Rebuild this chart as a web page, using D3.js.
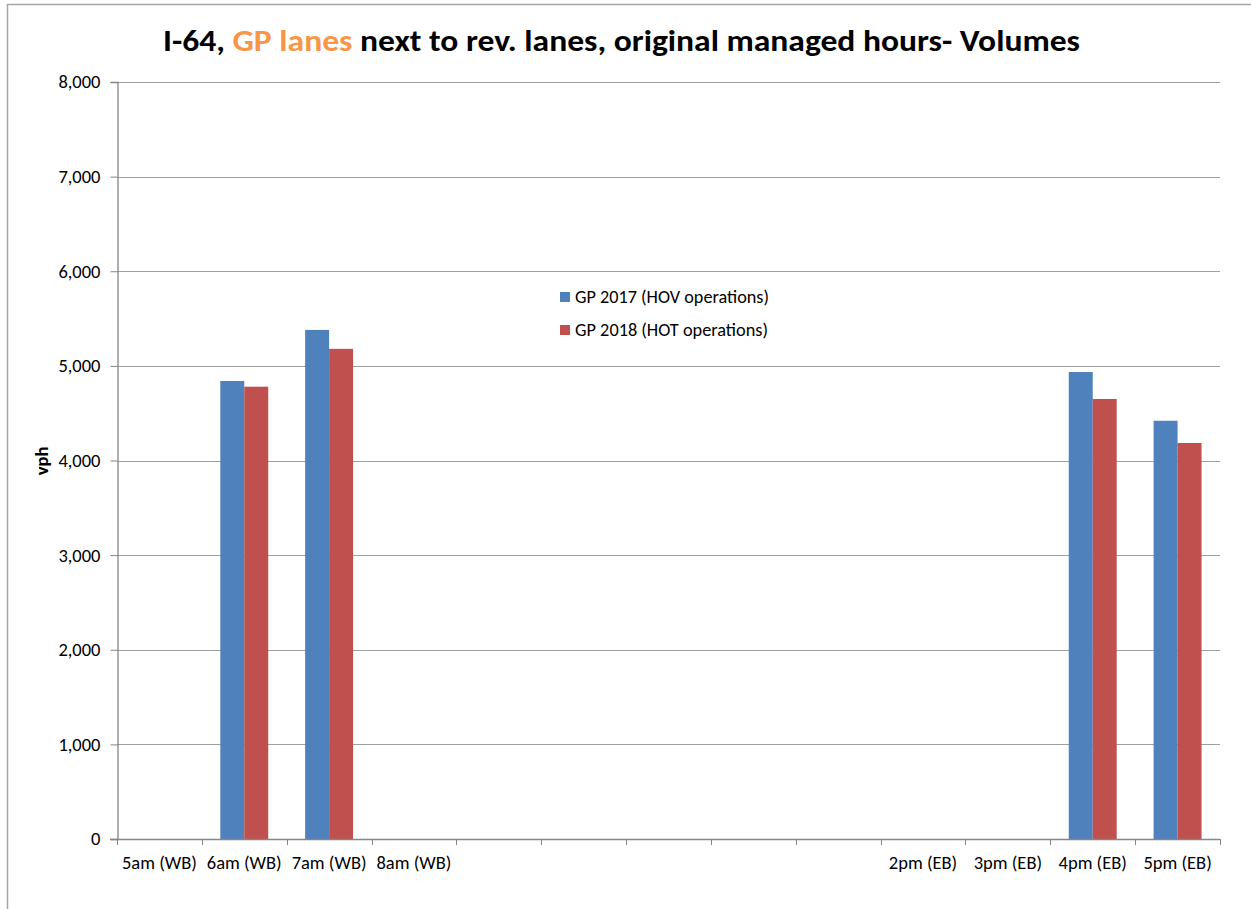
<!DOCTYPE html>
<html>
<head>
<meta charset="utf-8">
<script src="https://cdn.jsdelivr.net/npm/d3@7"></script>
<style>
  body { margin: 0; background: #fff; }
  text { font-family: Carlito, "Open Sans", "Noto Sans", sans-serif; }
</style>
</head>
<body>
<svg class="chart" width="1251" height="909"></svg>
<script>
const categories = ["5am (WB)", "6am (WB)", "7am (WB)", "8am (WB)", "", " ", "  ", "   ", "    ",
    "2pm (EB)", "3pm (EB)", "4pm (EB)", "5pm (EB)"]
const gp2017 = [null, 4840, 5380, null, null, null, null, null, null, null, null, 4935, 4420]
const gp2018 = [null, 4780, 5180, null, null, null, null, null, null, null, null, 4650, 4185]
const yTicks = [0, 1000, 2000, 3000, 4000, 5000, 6000, 7000, 8000]
const seriesNames = ["GP 2017 (HOV operations)", "GP 2018 (HOT operations)"]
const colors = ["#4f81bd", "#c0504d"]

const svg = d3.select("svg.chart")

const plotLeft = 117, plotRight = 1220, plotTop = 82, plotBottom = 839
const fs = 18.5

// outer chart frame (only top and left edges show)
svg.append("line").attr("x1", 7).attr("x2", 1251).attr("y1", 4.5).attr("y2", 4.5)
    .attr("stroke", "#a6a6a6").attr("stroke-width", 1.5)
svg.append("line").attr("x1", 7.5).attr("x2", 7.5).attr("y1", 4).attr("y2", 909)
    .attr("stroke", "#a6a6a6").attr("stroke-width", 1.5)

const x = d3.scaleBand()
    .domain(categories)
    .range([plotLeft, plotRight])
    .paddingInner(0)

const x1 = d3.scaleBand()
    .domain([0, 1])
    .range([0, x.bandwidth()])
    .paddingOuter(0.77)
    .paddingInner(0)

const y = d3.scaleLinear()
    .domain([0, 8000])
    .range([plotBottom, plotTop])

const numFormat = d3.format(",")

// gridlines
svg.append("g")
    .selectAll("line")
    .data(yTicks.slice(1))
    .enter()
    .append("line")
    .attr("x1", plotLeft)
    .attr("x2", plotRight)
    .attr("y1", d => Math.round(y(d)) + 0.5)
    .attr("y2", d => Math.round(y(d)) + 0.5)
    .attr("stroke", "#a0a0a0")
    .attr("stroke-width", 1)

// bars
const data = categories.map((c, i) => ({cat: c, vals: [gp2017[i], gp2018[i]]}))
const groups = svg.append("g")
    .selectAll("g")
    .data(data)
    .enter()
    .append("g")
    .attr("transform", d => "translate(" + x(d.cat) + ",0)")

groups.selectAll("rect")
    .data(d => d.vals.map((v, j) => ({v: v, j: j})).filter(e => e.v != null))
    .enter()
    .append("rect")
    .attr("x", d => x1(d.j))
    .attr("width", x1.bandwidth())
    .attr("y", d => y(d.v))
    .attr("height", d => y(0) - y(d.v))
    .attr("fill", d => colors[d.j])

// y axis
const yAxis = d3.axisLeft(y)
    .tickValues(yTicks)
    .tickSize(7)
    .tickPadding(10)
    .tickFormat(numFormat)

const yg = svg.append("g")
    .attr("transform", "translate(" + (plotLeft + 0.5) + ",0)")
    .call(yAxis)
yg.attr("font-family", null).attr("font-size", null)
yg.select(".domain").attr("stroke", "#868686").attr("stroke-width", 1.3)
yg.selectAll(".tick line").attr("stroke", "#868686")
yg.selectAll(".tick text")
    .style("font-size", fs + "px")
    .attr("fill", "#000")

// x axis
const xTickPos = categories.map(c => x(c)).concat([plotRight])
const xg = svg.append("g")
xg.append("line")
    .attr("x1", plotLeft - 7).attr("x2", plotRight)
    .attr("y1", plotBottom + 0.5).attr("y2", plotBottom + 0.5)
    .attr("stroke", "#868686").attr("stroke-width", 1.5)
xg.selectAll("line.tk")
    .data(xTickPos)
    .enter()
    .append("line")
    .attr("class", "tk")
    .attr("x1", d => Math.round(d) + 0.5)
    .attr("x2", d => Math.round(d) + 0.5)
    .attr("y1", plotBottom)
    .attr("y2", plotBottom + 6)
    .attr("stroke", "#868686")
xg.selectAll("text")
    .data(categories)
    .enter()
    .append("text")
    .attr("x", d => x(d) + x.bandwidth() / 2)
    .attr("y", 869)
    .attr("text-anchor", "middle")
    .style("font-size", fs + "px")
    .attr("fill", "#000")
    .text(d => d.trim())

// y title
svg.append("text")
    .attr("transform", "translate(48,461) rotate(-90)")
    .attr("text-anchor", "middle")
    .style("font-size", fs + "px")
    .attr("font-weight", "bold")
    .text("vph")

// title
const title = svg.append("text")
    .attr("x", 163)
    .attr("y", 51)
    .style("font-size", "30px")
    .attr("font-weight", "bold")
    .attr("textLength", 917)
    .attr("lengthAdjust", "spacingAndGlyphs")
title.append("tspan").text("I-64, ")
title.append("tspan").attr("fill", "#f79646").text("GP lanes")
title.append("tspan").text(" next to rev. lanes, original managed hours- Volumes")

// legend
const legend = svg.append("g")
    .selectAll("g")
    .data(seriesNames)
    .enter()
    .append("g")
    .attr("transform", (d, i) => "translate(560," + (292 + i * 33) + ")")
legend.append("rect")
    .attr("width", 10).attr("height", 10)
    .attr("fill", (d, i) => colors[i])
legend.append("text")
    .attr("x", 15)
    .attr("y", 11)
    .style("font-size", fs + "px")
    .attr("textLength", (d, i) => i === 0 ? 194 : 193)
    .attr("lengthAdjust", "spacingAndGlyphs")
    .text(d => d)
</script>
</body>
</html>
